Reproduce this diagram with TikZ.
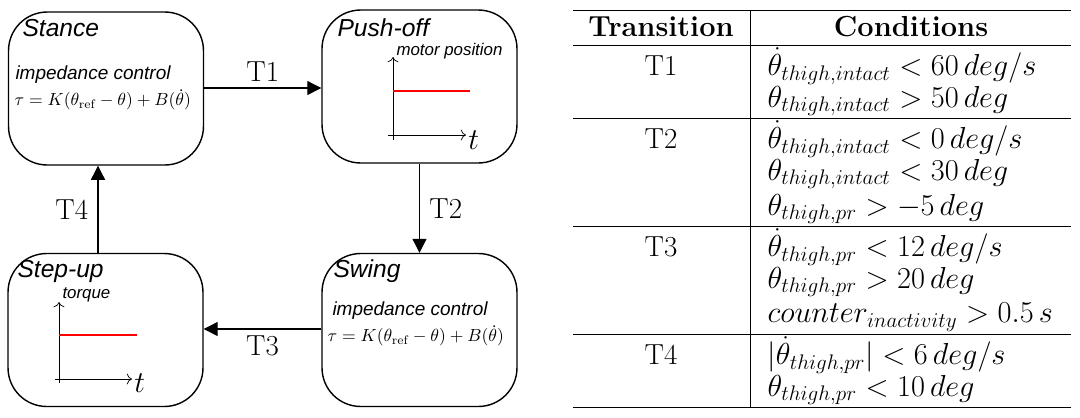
\documentclass[tikz,border=0pt]{standalone}
\usepackage{amsmath}
\usepackage{fontspec}
\setsansfont{Liberation Sans}
\usetikzlibrary{positioning, arrows.meta}

\begin{document}
\begin{tikzpicture}[x=0.02cm,y=-0.02cm,>={Triangle[length=8pt,width=8pt]},semithick]
\tikzstyle{state}=[draw=black,thick,rounded corners=22pt,minimum width=3.9cm,minimum height=3.06cm]
\tikzstyle{title}=[anchor=west,font=\sffamily\itshape\fontsize{14}{16}\selectfont,inner sep=0pt]
\tikzstyle{small}=[anchor=west,font=\sffamily\itshape\fontsize{10.8}{13}\selectfont,inner sep=0pt]
\tikzstyle{law}=[anchor=west,inner sep=0pt,font=\fontsize{10}{12}\selectfont]
\tikzstyle{lab}=[font=\fontsize{16.5}{18}\selectfont]
\tikzstyle{cond}=[anchor=west,font=\fontsize{16.5}{18}\selectfont,inner sep=0pt]
\useasboundingbox (0,0) rectangle (1080,417);

% states
\node[state] (stance) at (106,88.5) {};
\node[state] (push) at (419.5,86.5) {};
\node[state] (swing) at (419.5,330) {};
\node[state] (step) at (105.5,330) {};

\node[title] (tstance) at (22,28) {Stance};
\node[title] (tpush) at (337,28) {Push-off};
\node[title] (tswing) at (333,271) {Swing};
\node[title] (tstep) at (17,271) {Step-up};

\node[small] (imp1) at (15,75) {impedance control};
\node[law] (law1) at (14,100) {$\tau=K(\theta_{\mathrm{ref}}-\theta)+B(\dot\theta)$};
\node[small] (imp2) at (332,311) {impedance control};
\node[law] (law2) at (327,336) {$\tau=K(\theta_{\mathrm{ref}}-\theta)+B(\dot\theta)$};

% small plots
\draw[thin,-{To[length=3pt]}] (393,140) -- (393,57);
\draw[thin,-{To[length=3pt]}] (388,135) -- (466,135);
\node[lab,anchor=west,inner sep=1pt] (tp) at (466,140) {$t$};
\draw[red,thick] (393,91) -- (470,91);
\node[small,font=\sffamily\itshape\fontsize{9.6}{12}\selectfont] (mp) at (396,51) {motor position};

\draw[thin,-{To[length=3pt]}] (59,383) -- (59,302);
\draw[thin,-{To[length=3pt]}] (55,379) -- (132,379);
\node[lab,anchor=west,inner sep=1pt] (ts) at (132,383) {$t$};
\draw[red,thick] (59,335) -- (137,335);
\node[small,font=\sffamily\itshape\fontsize{9.6}{12}\selectfont] (tq) at (62,295) {torque};

% transitions
\draw[->] (stance.east |- 0,88) -- node[lab,above] {T1} (push.west |- 0,88);
\draw[->] (push.south) -- node[lab,right=2pt] {T2} (swing.north);
\draw[->] (swing.west |- 0,329) -- node[lab,below] {T3} (step.east |- 0,329);
\draw[->] (step.north -| 98,0) -- node[lab,left=2pt] {T4} (stance.south -| 98,0);

% table
\draw[thin] (573,10) -- (1071,10);
\draw[thin] (573,45) -- (1071,45);
\draw[thin] (573,118) -- (1071,118);
\draw[thin] (573,226) -- (1071,226);
\draw[thin] (573,334) -- (1071,334);
\draw[thin] (573,407) -- (1071,407);
\draw[thin] (750,10) -- (750,407);
\node[lab] (hT) at (661,27) {\bfseries Transition};
\node[lab] (hC) at (911,27) {\bfseries Conditions};
\foreach \n/\y in {T1/66,T2/139,T3/247,T4/355}
  \node[lab] (r\n) at (661,\y) {\n};
\node[cond] (c11) at (767,66) {$\dot\theta_{thigh,intact}<60\,deg/s$};
\node[cond] (c12) at (767,101) {$\theta_{thigh,intact}>50\,deg$};
\node[cond] (c21) at (767,139) {$\dot\theta_{thigh,intact}<0\,deg/s$};
\node[cond] (c22) at (767,174) {$\theta_{thigh,intact}<30\,deg$};
\node[cond] (c23) at (767,209) {$\theta_{thigh,pr}>-5\,deg$};
\node[cond] (c31) at (767,247) {$\dot\theta_{thigh,pr}<12\,deg/s$};
\node[cond] (c32) at (767,282) {$\theta_{thigh,pr}>20\,deg$};
\node[cond] (c33) at (767,317) {$counter_{inactivity}>0.5\,s$};
\node[cond] (c41) at (767,355) {$|\dot\theta_{thigh,pr}|<6\,deg/s$};
\node[cond] (c42) at (767,390) {$\theta_{thigh,pr}<10\,deg$};
\end{tikzpicture}
\end{document}
